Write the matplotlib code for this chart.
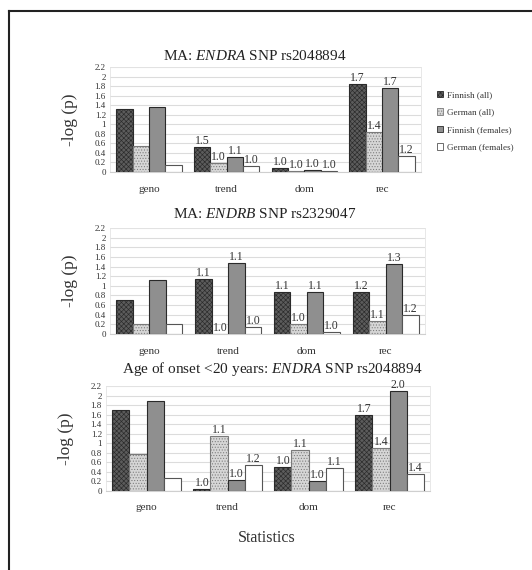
import matplotlib
matplotlib.use("Agg")
import matplotlib.pyplot as plt
import numpy as np
from matplotlib.patches import Patch
from matplotlib.lines import Line2D

plt.rcParams['font.family'] = ['Liberation Serif', 'DejaVu Serif']
plt.rcParams['mathtext.fontset'] = 'custom'
plt.rcParams['mathtext.rm'] = 'Liberation Serif'
plt.rcParams['mathtext.it'] = 'Liberation Serif:italic'
plt.rcParams['hatch.linewidth'] = 0.45

# data
categories = ["geno", "trend", "dom", "rec"]
series = ["Finnish (all)", "German (all)", "Finnish (females)", "German (females)"]

# heights per panel, rows = series, columns = categories
p1_vals = [[1.33, 0.52, 0.09, 1.84],
           [0.55, 0.19, 0.03, 0.84],
           [1.37, 0.32, 0.05, 1.76],
           [0.15, 0.12, 0.03, 0.34]]
p1_labels = [[None, "1.5", "1.0", "1.7"],
             [None, "1.0", "1.0", "1.4"],
             [None, "1.1", "1.0", "1.7"],
             [None, "1.0", "1.0", "1.2"]]

p2_vals = [[0.70, 1.15, 0.87, 0.87],
           [0.20, 0.00, 0.21, 0.28],
           [1.12, 1.47, 0.87, 1.45],
           [0.20, 0.15, 0.05, 0.40]]
p2_labels = [[None, "1.1", "1.1", "1.2"],
             [None, "1.0", "1.0", "1.1"],
             [None, "1.1", "1.1", "1.3"],
             [None, "1.0", "1.0", "1.2"]]

p3_vals = [[1.70, 0.05, 0.50, 1.59],
           [0.77, 1.15, 0.85, 0.90],
           [1.89, 0.24, 0.21, 2.10],
           [0.28, 0.55, 0.48, 0.36]]
p3_labels = [[None, "1.0", "1.0", "1.7"],
             [None, "1.1", "1.1", "1.4"],
             [None, "1.0", "1.0", "2.0"],
             [None, "1.2", "1.1", "1.4"]]

titles = ["MA: $\\mathit{ENDRA}$ SNP rs2048894",
          "MA: $\\mathit{ENDRB}$ SNP rs2329047",
          "Age of onset <20 years: $\\mathit{ENDRA}$ SNP rs2048894"]

yticks = [0, 0.2, 0.4, 0.6, 0.8, 1, 1.2, 1.4, 1.6, 1.8, 2, 2.2]
ytick_labels = ["0", "0.2", "0.4", "0.6", "0.8", "1", "1.2", "1.4", "1.6", "1.8", "2", "2.2"]

styles = [dict(color="#5c5c5c", edgecolor="#2a2a2a", hatch="xxxxxxx"),
          dict(color="#d6d6d6", edgecolor="#7a7a7a", hatch="......"),
          dict(color="#8f8f8f", edgecolor="#2a2a2a", hatch=None),
          dict(color="white", edgecolor="#555555", hatch=None)]

W, H = 532, 570
fig = plt.figure(figsize=(W / 100, H / 100), dpi=100)


def px_axes(left, right, top, bottom):
    return fig.add_axes([left / W, 1 - bottom / H, (right - left) / W, (bottom - top) / H])


# (left, right, top, bottom) in pixels, title center
boxes = [(110, 421, 67, 172), (110, 425, 228, 334), (106, 430, 386, 491)]
title_pos = [(255, 56), (265, 214), (272, 369)]
panels = [(p1_vals, p1_labels), (p2_vals, p2_labels), (p3_vals, p3_labels)]

x = np.arange(len(categories))
bw = 0.21
for k, (box, (vals, labs)) in enumerate(zip(boxes, panels)):
    ax = px_axes(*box)
    for i in range(len(series)):
        pos = x + (i - 1.5) * bw
        st = styles[i]
        ax.bar(pos, vals[i], bw, color=st["color"], edgecolor=st["edgecolor"],
               hatch=st["hatch"], linewidth=0.8, zorder=3)
        for j in range(len(categories)):
            if labs[i][j] is not None:
                ax.text(pos[j], vals[i][j], labs[i][j], ha="center", va="bottom",
                        fontsize=8.5, color="#333333", zorder=4, clip_on=False)
    ax.set_xlim(-0.5, 3.5)
    ax.set_ylim(0, 2.2)
    ax.set_yticks(yticks)
    ax.set_yticklabels(ytick_labels, fontsize=6.5, color="#333333")
    ax.set_xticks(x)
    ax.set_xticklabels(categories, fontsize=8, color="#333333")
    ax.tick_params(axis="y", length=0, pad=3)
    ax.tick_params(axis="x", length=0, pad=9)
    ax.grid(axis="y", color="#dcdcdc", linewidth=0.8, zorder=0)
    for s in ["top", "right", "left"]:
        ax.spines[s].set_color("#e4e4e4")
        ax.spines[s].set_linewidth(0.6)
    ax.spines["bottom"].set_color("#cfcfcf")
    ax.spines["bottom"].set_linewidth(0.8)
    ax.set_ylabel("-log (p)", fontsize=12.5, color="#333333", labelpad=12)
    tx, ty = title_pos[k]
    fig.text(tx / W, 1 - ty / H, titles[k], ha="center", va="center", fontsize=11, color="#222222")

fig.text(267 / W, 1 - 538 / H, "Statistics", ha="center", va="center", fontsize=11.5, color="#333333")

handles = [Patch(facecolor=st["color"], edgecolor=st["edgecolor"], hatch=st["hatch"], linewidth=0.6)
           for st in styles]
fig.legend(handles, series, loc="upper left", bbox_to_anchor=(431 / W, 1 - 85 / H),
           frameon=False, fontsize=6.6, handlelength=0.7, handleheight=0.7,
           handletextpad=0.4, labelspacing=1.0, labelcolor="#333333", borderaxespad=0.2)

# frame lines along top and left edge
fig.add_artist(Line2D([9 / W, 1], [1 - 11 / H, 1 - 11 / H], color="#222222", linewidth=1.5))
fig.add_artist(Line2D([9 / W, 9 / W], [0, 1 - 11 / H], color="#222222", linewidth=1.5))

fig.savefig("out.png", dpi=100)
